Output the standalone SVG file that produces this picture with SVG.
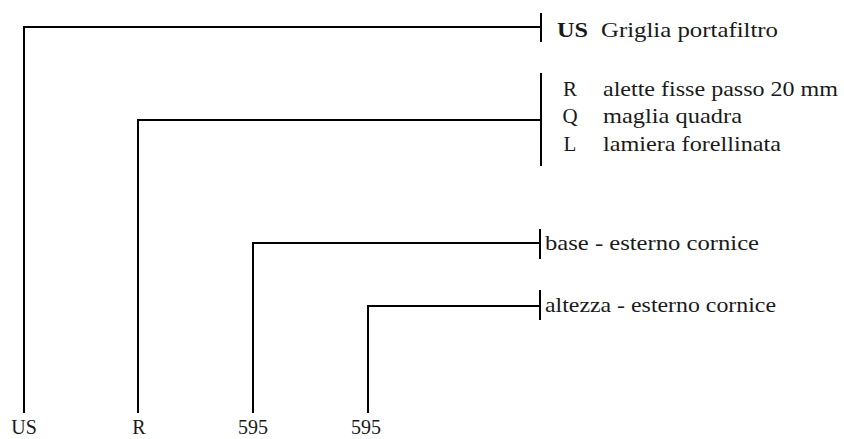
<svg xmlns="http://www.w3.org/2000/svg" width="844" height="439" viewBox="0 0 844 439">
<style>
.ln{fill:none;stroke:#000;stroke-width:2}
text{font-family:"Liberation Serif","Times New Roman",serif;font-size:21px;fill:#1a1a1a}
.b{font-weight:bold}
.m{text-anchor:middle}
.c{font-size:20px}
</style>
<rect width="844" height="439" fill="#fff"/>
<g id="connectors">
<polyline class="ln" points="24,413 24,27 541,27"/>
<line class="ln" x1="541" y1="13" x2="541" y2="42"/>
<polyline class="ln" points="138,413 138,120 541,120"/>
<line class="ln" x1="541" y1="73" x2="541" y2="166"/>
<polyline class="ln" points="253,413 253,243 540,243"/>
<line class="ln" x1="540" y1="229" x2="540" y2="259"/>
<polyline class="ln" points="368,413 368,306 540,306"/>
<line class="ln" x1="540" y1="290" x2="540" y2="320"/>
</g>
<g id="node-us">
<text class="b" x="557" y="37" textLength="31" lengthAdjust="spacingAndGlyphs">US</text>
<text x="601" y="37" textLength="177" lengthAdjust="spacingAndGlyphs">Griglia portafiltro</text>
</g>
<g id="node-type">
<text class="m" x="570" y="96">R</text>
<text x="603" y="96" textLength="235" lengthAdjust="spacingAndGlyphs">alette fisse passo 20 mm</text>
<text class="m" x="570" y="123">Q</text>
<text x="603" y="123" textLength="139" lengthAdjust="spacingAndGlyphs">maglia quadra</text>
<text class="m" x="570" y="151">L</text>
<text x="603" y="151" textLength="178" lengthAdjust="spacingAndGlyphs">lamiera forellinata</text>
</g>
<g id="node-base">
<text x="545" y="250" textLength="214" lengthAdjust="spacingAndGlyphs">base - esterno cornice</text>
</g>
<g id="node-altezza">
<text x="545" y="312" textLength="231" lengthAdjust="spacingAndGlyphs">altezza - esterno cornice</text>
</g>
<g id="codes">
<text class="m c" x="24" y="434">US</text>
<text class="m c" x="139" y="434">R</text>
<text class="m c" x="253" y="434">595</text>
<text class="m c" x="366" y="434">595</text>
</g>
</svg>
